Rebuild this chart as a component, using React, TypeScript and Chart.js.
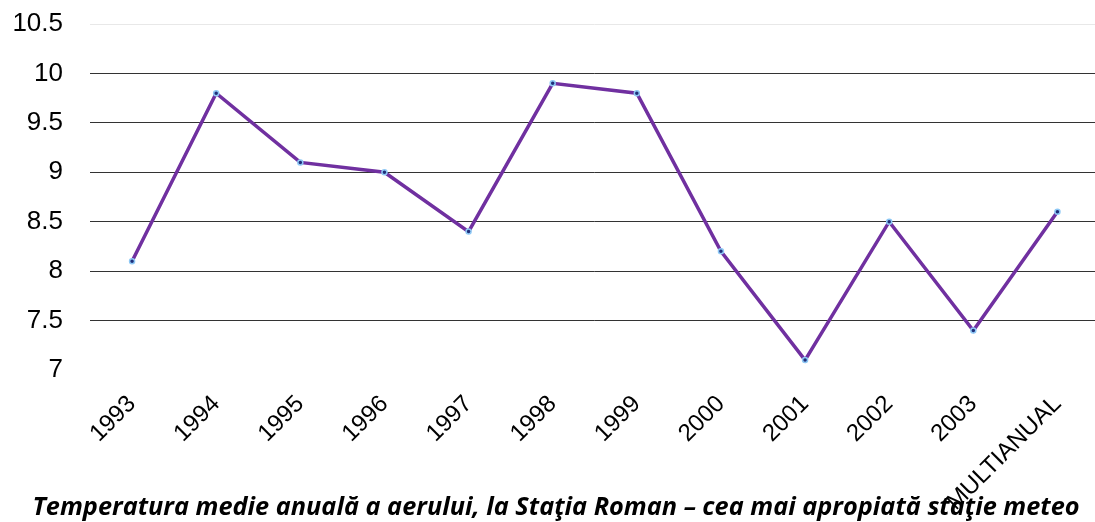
import React, { useEffect, useRef } from "react";
import { Chart, registerables } from "chart.js";

Chart.register(...registerables);

const categories = ["1993", "1994", "1995", "1996", "1997", "1998", "1999", "2000", "2001", "2002", "2003", "MULTIANUAL"];
const temperatures = [8.1, 9.8, 9.1, 9.0, 8.4, 9.9, 9.8, 8.2, 7.1, 8.5, 7.4, 8.6];
const chartTitle = "Temperatura medie anuală a aerului, la Staţia Roman – cea mai apropiată staţie meteo";
const yMin = 7;
const yMax = 10.5;
const yStep = 0.5;

const W = 1105;
const H = 522;

export default function App() {
  const ref = useRef<HTMLCanvasElement | null>(null);

  useEffect(() => {
    document.body.style.margin = "0";
    document.body.style.overflow = "hidden";
    const canvas = ref.current;
    if (!canvas) return;

    const titlePlugin = {
      id: "bottomTitle",
      beforeDraw(chart: any) {
        const ctx = chart.ctx;
        ctx.save();
        ctx.font = "italic bold 25.3px 'Open Sans'";
        ctx.fillStyle = "#000";
        ctx.textAlign = "center";
        ctx.textBaseline = "alphabetic";
        ctx.fillText(chartTitle, 556, 515);
        ctx.restore();
      },
    };

    const chart = new Chart(canvas, {
      type: "line",
      data: {
        labels: categories,
        datasets: [
          {
            data: temperatures,
            borderColor: "#7030A0",
            borderWidth: 3.5,
            pointStyle: "circle",
            pointRadius: 2.5,
            pointBorderWidth: 1.5,
            pointBackgroundColor: "#1f2f7a",
            pointBorderColor: "#8ec8f5",
            tension: 0,
          },
        ],
      },
      options: {
        responsive: false,
        animation: false,
        devicePixelRatio: 1,
        layout: { padding: { top: 24, left: 0, right: 0, bottom: 0 } },
        plugins: {
          legend: { display: false },
          tooltip: { enabled: false },
          title: { display: false },
        },
        scales: {
          x: {
            type: "category",
            offset: true,
            grid: { display: false, drawTicks: false },
            border: { display: false },
            ticks: {
              minRotation: 45,
              maxRotation: 45,
              autoSkip: false,
              color: "#000",
              padding: 20,
              font: { family: "'Liberation Sans', Arial, sans-serif", size: 24 },
            },
            afterFit(scale: any) {
              scale.height = H - 370;
              scale.paddingLeft = 0;
              scale.paddingRight = 0;
              scale.paddingTop = 0;
              scale.paddingBottom = 0;
            },
          },
          y: {
            min: yMin,
            max: yMax,
            border: { display: false },
            grid: {
              drawTicks: false,
              lineWidth: 1,
              color: (ctx: any) => {
                const v = ctx.tick ? ctx.tick.value : null;
                if (v === yMin) return "rgba(0,0,0,0)";
                if (v === yMax) return "#e8e8e8";
                return "#333333";
              },
            },
            ticks: {
              stepSize: yStep,
              color: "#000",
              padding: 27,
              font: { family: "'Liberation Sans', Arial, sans-serif", size: 26 },
              callback: (v: any) => String(v),
            },
            afterFit(scale: any) {
              scale.width = 90;
              scale.paddingTop = 0;
              scale.paddingBottom = 0;
              scale.paddingLeft = 0;
              scale.paddingRight = 0;
            },
          },
        },
      },
      plugins: [titlePlugin],
    });

    return () => chart.destroy();
  }, []);

  return (
    <div style={{ width: W, height: H, position: "relative" }}>
      <canvas ref={ref} width={W} height={H} style={{ display: "block", width: W, height: H }} />
    </div>
  );
}
